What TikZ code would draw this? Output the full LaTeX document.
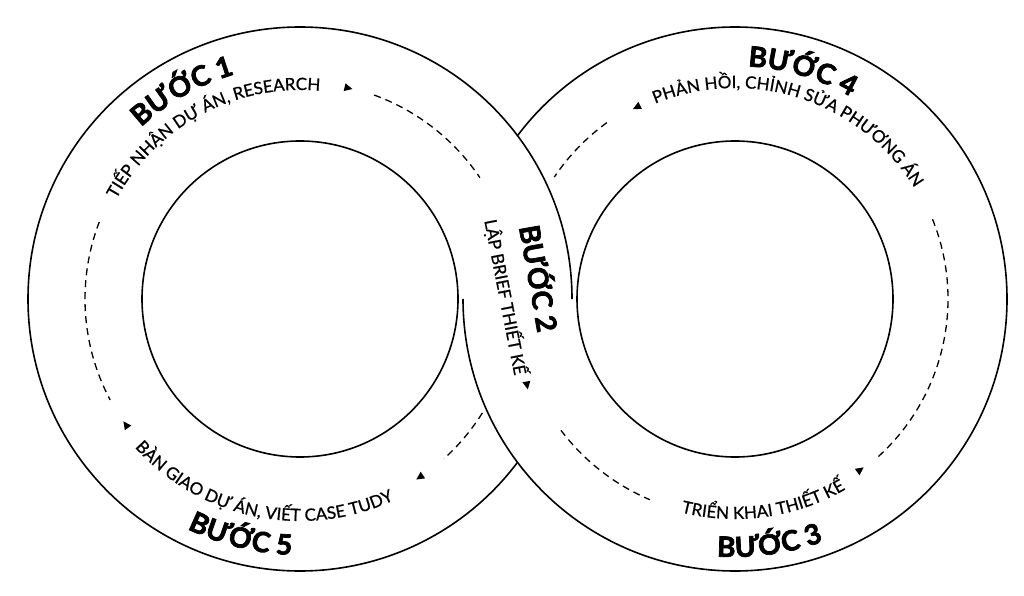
\documentclass[tikz,border=0pt]{standalone}
\usepackage{fontspec}
\setmainfont{Lato}
\newfontfamily\heavyfam{Lato}[BoldFeatures={FakeBold=2.5}]
\newfontfamily\subfam{Lato}[FakeBold=0.8]
\usetikzlibrary{decorations.text}
\newcommand\ttlfont{\heavyfam\fontsize{28}{28}\selectfont\bfseries}
\newcommand\subfont{\subfam\fontsize{17}{17}\selectfont}
\newcommand\arctext[5]{%
  \path[decorate,decoration={text along path,text align=center,text={#5}}]
    (#1) ++(#3:#2) arc[start angle=#3,end angle=#4,radius=#2];}
\newcommand\tri[3]{\fill[shift={(#1,#2)},rotate=#3] (4.5,0) -- (-3.5,4) -- (-3.5,-4) -- cycle;}
\begin{document}
\begin{tikzpicture}[x=1pt,y=1pt,
  ring/.style={line width=1.6pt},
  dashline/.style={line width=1.3pt,dash pattern=on 7pt off 5pt}]
\useasboundingbox (0,0) rectangle (1024,595);
\coordinate (L) at (300,296);
\coordinate (R) at (735,296);
% rings (the band from step 1 to step 3 passes over the other one)
\draw[ring] (L) ++(0:272) arc[start angle=0,end angle=323.13,radius=272];
\draw[ring] (R) ++(180:272) arc[start angle=180,end angle=503.13,radius=272];
\draw[ring] (L) circle[radius=158];
\draw[ring] (R) circle[radius=158];
% dashed arcs
\draw[dashline] (L) ++(70:217) arc[start angle=70,end angle=34,radius=217];
\draw[dashline] (L) ++(159:215) arc[start angle=159,end angle=208,radius=215];
\draw[dashline] (L) ++(-32:215) arc[start angle=-32,end angle=-48,radius=215];
\draw[dashline] (R) ++(126:218) arc[start angle=126,end angle=146,radius=218];
\draw[dashline] (R) ++(22:213) arc[start angle=22,end angle=-48,radius=213];
\draw[dashline] (R) ++(217:218) arc[start angle=217,end angle=247,radius=218];
% texts
\arctext{L}{234}{160}{79}{|\ttlfont|BƯỚC 1}
\arctext{L}{209}{168}{68}{|\subfont|TIẾP NHẬN DỰ ÁN, RESEARCH}
\arctext{R}{233}{114}{33}{|\ttlfont|BƯỚC 4}
\arctext{R}{211}{122}{22}{|\subfont|PHẢN HỒI, CHỈNH SỬA PHƯƠNG ÁN}
\arctext{L}{222}{208}{309}{|\subfont|BÀN GIAO DỰ ÁN, VIẾT CASE TUDY}
\arctext{L}{256}{216}{296}{|\ttlfont|BƯỚC 5}
\arctext{R}{220}{238}{318}{|\subfont|TRIỂN KHAI THIẾT KẾ}
\arctext{R}{258}{238}{318}{|\ttlfont|BƯỚC 3}
\node[rotate=-80,font=\ttlfont] (s2) at (541,317) {BƯỚC 2};
\node[rotate=-79,font=\subfont] (s2b) at (506,298) {LẬP BRIEF THIẾT KẾ};
% arrows
\tri{348}{507}{-13}
\tri{527}{210}{-80}
\tri{860}{125}{36}
\tri{637}{488}{207}
\tri{420}{118}{-146}
\tri{126}{170}{126}
\end{tikzpicture}
\end{document}
